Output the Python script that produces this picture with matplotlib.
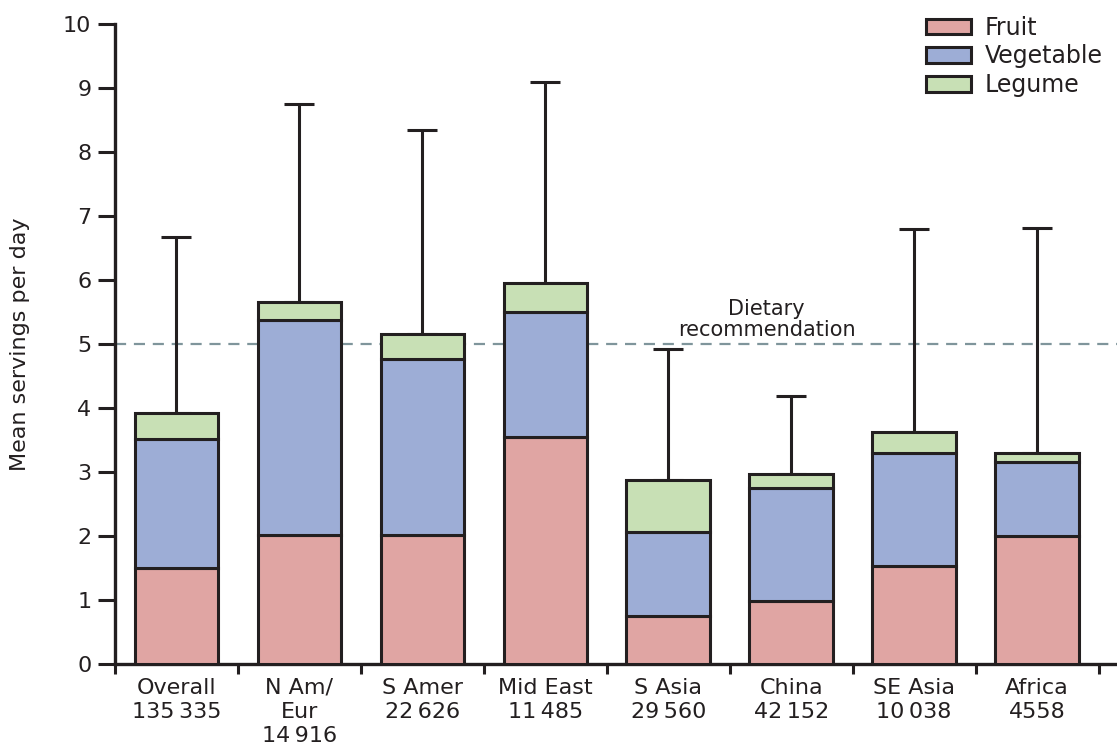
import numpy as np
import matplotlib.pyplot as plt
from matplotlib.patches import Patch

regions = ['Overall', 'N Am/\nEur', 'S Amer', 'Mid East', 'S Asia', 'China', 'SE Asia', 'Africa']
n_people = ['135\u2009335', '14\u2009916', '22\u2009626', '11\u2009485', '29\u2009560', '42\u2009152', '10\u2009038', '4558']
fruit = [1.50, 2.02, 2.02, 3.55, 0.75, 0.98, 1.53, 2.00]
vegetable = [2.02, 3.36, 2.74, 1.95, 1.32, 1.77, 1.77, 1.15]
legume = [0.40, 0.27, 0.39, 0.45, 0.80, 0.22, 0.32, 0.15]
upper_sd = [6.67, 8.75, 8.35, 9.10, 4.92, 4.18, 6.80, 6.82]
recommendation = 5

plt.rcParams['font.family'] = ['DejaVu Sans']
dark = '#231f20'
colors = {'Fruit': '#e0a5a3', 'Vegetable': '#9dadd6', 'Legume': '#c8e0b5'}

fig = plt.figure(figsize=(11.17, 7.51), dpi=100)
ax = fig.add_axes([115 / 1117, 1 - 664 / 751, 1 - 115 / 1117, (664 - 24) / 751])

x = np.arange(len(regions))
width = 0.68
fruit = np.array(fruit)
vegetable = np.array(vegetable)
legume = np.array(legume)
total = fruit + vegetable + legume

# reference line sits behind the bars
ax.axhline(recommendation, color='#7f959b', lw=1.6, ls=(0, (5, 3.5)), zorder=1)
ax.text(4.8, 5.06, 'Dietary\nrecommendation', ha='center', va='bottom',
        fontsize=15, color=dark, linespacing=1.1)

# only the upper arm of the error bar is shown
ax.errorbar(x, total, yerr=[np.zeros_like(total), np.array(upper_sd) - total],
            fmt='none', ecolor=dark, elinewidth=2.2, capsize=11, capthick=2.2, zorder=2)

bottom = np.zeros(len(x))
for name, vals in [('Fruit', fruit), ('Vegetable', vegetable), ('Legume', legume)]:
    ax.bar(x, vals, width, bottom=bottom, color=colors[name], edgecolor=dark,
           linewidth=2.2, zorder=3)
    bottom += vals

ax.set_xlim(-0.5, 7.65)
ax.set_ylim(0, 10)
ax.set_yticks(range(0, 11))
ax.tick_params(axis='y', direction='out', length=12, width=2.2, labelsize=16,
               color=dark, labelcolor=dark, pad=5)

ax.set_xticks(x)
ax.set_xticklabels([f'{r}\n{n}' for r, n in zip(regions, n_people)],
                   fontsize=16, color=dark, linespacing=1.25)
ax.tick_params(axis='x', which='major', length=0, pad=10)
ax.set_xticks(np.arange(-0.5, 8, 1), minor=True)
ax.tick_params(axis='x', which='minor', direction='out', length=7, width=2.2, color=dark)

for side in ['top', 'right']:
    ax.spines[side].set_visible(False)
for side in ['left', 'bottom']:
    ax.spines[side].set_linewidth(2.4)
    ax.spines[side].set_color(dark)
ax.spines['left'].set_position(('data', -0.5))

ax.set_ylabel('Mean servings per day', fontsize=16, color=dark, labelpad=24)

handles = [Patch(facecolor=c, edgecolor=dark, linewidth=2.2, label=k) for k, c in colors.items()]
leg = ax.legend(handles=handles, loc='upper right', bbox_to_anchor=(1.0, 1.035),
                frameon=False, fontsize=17, handlelength=1.9, handleheight=0.65,
                handletextpad=0.6, labelspacing=0.2, borderaxespad=0.2)
for t in leg.get_texts():
    t.set_color(dark)

fig.savefig('out.png', dpi=100)
